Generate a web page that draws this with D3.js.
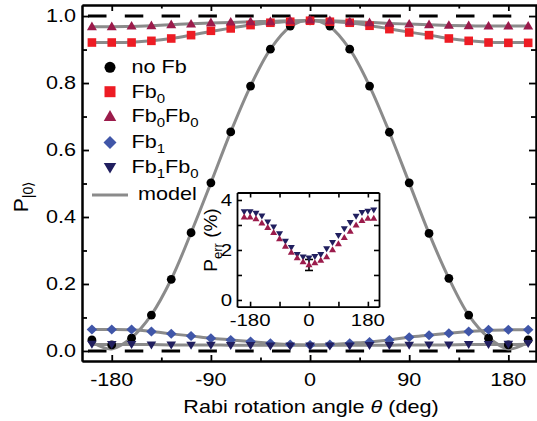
<!DOCTYPE html>
<html><head><meta charset="utf-8">
<script src="https://cdnjs.cloudflare.com/ajax/libs/d3/7.8.5/d3.min.js"></script>
<style>body{margin:0;background:#fff}svg{display:block}text{font-family:"Liberation Sans",Arial,sans-serif;fill:#000}</style>
</head><body><svg id="c" width="537" height="421"></svg>
<script>
// ---------- data ----------
const angles = [-198,-180,-162,-144,-126,-108,-90,-72,-54,-36,-18,0,18,36,54,72,90,108,126,144,162,180,198];
const noFb   = [0.033,0.018,0.038,0.107,0.214,0.353,0.502,0.654,0.791,0.901,0.970,0.986,0.970,0.901,0.791,0.653,0.502,0.351,0.217,0.107,0.038,0.018,0.033];
const fb0    = [0.921,0.921,0.921,0.926,0.933,0.943,0.956,0.963,0.973,0.980,0.983,0.986,0.983,0.980,0.971,0.961,0.951,0.943,0.933,0.926,0.921,0.920,0.920];
const fb0fb0 = [0.968,0.968,0.970,0.971,0.974,0.976,0.980,0.982,0.983,0.983,0.986,0.988,0.986,0.983,0.980,0.978,0.976,0.974,0.972,0.971,0.970,0.970,0.970];
const fb1    = [0.064,0.064,0.064,0.058,0.051,0.045,0.038,0.033,0.028,0.023,0.019,0.018,0.019,0.023,0.027,0.033,0.041,0.047,0.053,0.058,0.063,0.063,0.063];
const fb1fb0 = [0.021,0.020,0.020,0.019,0.019,0.018,0.018,0.017,0.017,0.016,0.016,0.016,0.016,0.016,0.017,0.017,0.018,0.019,0.019,0.020,0.020,0.021,0.023];
// model curves
const modelNoFb   = [0.026,0.006,0.040,0.108,0.214,0.353,0.502,0.654,0.791,0.901,0.968,0.988,0.968,0.901,0.791,0.653,0.502,0.351,0.217,0.107,0.040,0.006,0.026];
const modelFb0    = [0.921,0.921,0.922,0.926,0.933,0.943,0.954,0.964,0.973,0.980,0.984,0.986,0.984,0.980,0.972,0.962,0.952,0.943,0.933,0.926,0.922,0.921,0.921];
const modelFb0Fb0 = [0.968,0.968,0.969,0.971,0.974,0.977,0.979,0.981,0.983,0.984,0.986,0.987,0.986,0.984,0.981,0.978,0.976,0.974,0.972,0.971,0.970,0.970,0.970];
const modelFb1    = [0.064,0.064,0.063,0.058,0.051,0.045,0.038,0.033,0.028,0.023,0.019,0.018,0.019,0.023,0.027,0.033,0.041,0.047,0.053,0.058,0.062,0.063,0.063];
const modelFb1Fb0 = [0.019,0.019,0.019,0.019,0.018,0.018,0.018,0.017,0.017,0.017,0.017,0.017,0.017,0.017,0.017,0.017,0.018,0.018,0.018,0.019,0.019,0.019,0.020];
// inset: error probability (%)
const errFb0Fb0 = [3.32,3.32,3.25,3.08,2.90,2.70,2.45,2.15,1.90,1.68,1.52,1.40,1.48,1.58,1.72,2.00,2.25,2.50,2.75,3.00,3.18,3.27,3.27];
const errFb1Fb0 = [3.53,3.53,3.47,3.36,3.12,2.92,2.65,2.35,2.10,1.82,1.72,1.68,1.74,1.82,2.05,2.30,2.58,2.85,3.10,3.35,3.50,3.55,3.60];
const errBarAngle = [0];
const errBarLow = [1.18];
const errBarHigh = [1.62];
// ticks
const xMajor = [-180,-90,0,90,180], xMinor = [-135,-45,45,135];
const yMajor = [0,0.2,0.4,0.6,0.8,1.0], yMinor = [0.1,0.3,0.5,0.7,0.9];
const xLabels = ["-180","-90","0","90","180"], yLabels = ["0.0","0.2","0.4","0.6","0.8","1.0"];
const insetXTicks = [-180,-90,0,90,180], insetXLabels = [[-180,"-180"],[0,"0"],[180,"180"]];
const insetYTicks = [0,1,2,3,4], insetYLabels = [[0,"0"],[2,"2"],[4,"4"]];
const refLines = [0, 1];

const C = {black:"#000000", red:"#ed1c24", wine:"#9b1b4b", blue:"#4056a8", navy:"#211f5f", grey:"#8b8b8b"};
const SX = 1.2;

// ---------- helpers ----------
const svg = d3.select('#c');
function addText(g, x, y, parts, o={}) {
  const t = g.append('text')
    .attr('transform', `translate(${x},${y})` + (o.rot ? ` rotate(${o.rot})` : '') + ` scale(${o.sx ?? SX},1)`)
    .attr('text-anchor', o.anchor || 'start')
    .style('font-size', (o.size || 18) + 'px');
  let shift = 0;
  parts.forEach(p => {
    const sub = Array.isArray(p);
    const s = sub ? p[0] : p;
    const target = sub ? (o.subShift ?? 5) : 0;
    t.append('tspan').attr('dy', target - shift).style('font-size', sub ? (o.sub || 12.5) + 'px' : null).text(s);
    shift = target;
  });
  return t;
}
const M = {
  circle: r => `M${-r},0A${r},${r} 0 1,0 ${r},0A${r},${r} 0 1,0 ${-r},0Z`,
  square: s => `M${-s/2},${-s/2}h${s}v${s}h${-s}Z`,
  up: (w,h) => `M0,${-h*0.6}L${w/2},${h*0.4}L${-w/2},${h*0.4}Z`,
  down: (w,h) => `M0,${h*0.6}L${w/2},${-h*0.4}L${-w/2},${-h*0.4}Z`,
  diamond: (w,h) => `M0,${-h/2}L${w/2},0L0,${h/2}L${-w/2},0Z`
};

// ---------- main scales ----------
const x = d3.scaleLinear().domain([-207,206]).range([82,537]);
const y = d3.scaleLinear().domain([-0.03,1.033]).range([361,5]);

// reference dashed lines
svg.append('g').selectAll('line').data(refLines).join('line')
  .attr('x1', 88).attr('x2', 512).attr('y1', d => y(d)).attr('y2', d => y(d))
  .attr('stroke', '#000').attr('stroke-width', 3).attr('stroke-dasharray', '18.5,18.3');

// model lines
const line = arr => d3.line().x((d,i) => x(angles[i])).y(d => y(d)).curve(d3.curveCatmullRom.alpha(0.5))(arr);
svg.append('g').selectAll('path').data([modelNoFb, modelFb0, modelFb0Fb0, modelFb1, modelFb1Fb0]).join('path')
  .attr('d', d => line(d)).attr('fill', 'none').attr('stroke', C.grey).attr('stroke-width', 3);

// markers
function series(arr, shape, color) {
  svg.append('g').selectAll('path').data(arr).join('path')
    .attr('transform', (d,i) => `translate(${x(angles[i])},${y(d)})`)
    .attr('d', shape).attr('fill', color);
}
series(noFb, M.circle(4.4), C.black);
series(fb0, M.square(8.6), C.red);
series(fb0fb0, M.up(10, 8.6), C.wine);
series(fb1, M.diamond(10.5, 10), C.blue);
series(fb1fb0, M.down(9.6, 8), C.navy);

// axes (ticks inward)
function ax(gen, tr, vals, size) {
  svg.append('g').attr('transform', tr)
    .call(gen.tickValues(vals).tickSize(size).tickSizeOuter(0).tickFormat(''))
    .call(g => { g.selectAll('line').attr('stroke', '#000').attr('stroke-width', 1.8); g.select('.domain').attr('stroke', '#000').attr('stroke-width', 2); });
}
ax(d3.axisBottom(x), `translate(0,${361})`, xMajor, -6);
ax(d3.axisBottom(x), `translate(0,${361})`, xMinor, -3.5);
ax(d3.axisTop(x), `translate(0,${5})`, xMajor, -6);
ax(d3.axisTop(x), `translate(0,${5})`, xMinor, -3.5);
ax(d3.axisLeft(y), `translate(${82},0)`, yMajor, -7);
ax(d3.axisLeft(y), `translate(${82},0)`, yMinor, -5);
ax(d3.axisRight(y), `translate(${536},0)`, yMajor, -7);
ax(d3.axisRight(y), `translate(${536},0)`, yMinor, -5);

// tick labels
xMajor.forEach((v,i) => addText(svg, x(v), 386, [xLabels[i]], {anchor:'middle'}));
yMajor.forEach((v,i) => addText(svg, 76, y(v) + 6, [yLabels[i]], {anchor:'end'}));

// axis titles
addText(svg, 311, 413, ['Rabi rotation angle ', 'θ', ' (deg)'], {anchor:'middle'})
  .selectAll('tspan').filter((d,i) => i === 1).style('font-style', 'italic');
addText(svg, 28, 197, ['P', ['|0⟩']], {anchor:'middle', rot:-90, sx:1, size:21, sub:14});

// legend
const legend = [
  {shape: M.circle(5.5), color: C.black, label: ['no Fb']},
  {shape: M.square(11), color: C.red, label: ['Fb', ['0']]},
  {shape: M.up(12.5, 11), color: C.wine, label: ['Fb', ['0'], 'Fb', ['0']]},
  {shape: M.diamond(13, 13), color: C.blue, label: ['Fb', ['1']]},
  {shape: M.down(12.5, 10.5), color: C.navy, label: ['Fb', ['1'], 'Fb', ['0']]}
];
const legY = [67.3, 91.7, 116.5, 142.5, 167.3];
legend.forEach((d,i) => {
  svg.append('path').attr('transform', `translate(110,${legY[i]})`).attr('d', d.shape).attr('fill', d.color);
  addText(svg, 131.5, legY[i] + 5.8, d.label);
});
svg.append('line').attr('x1', 92).attr('x2', 128).attr('y1', 195).attr('y2', 195).attr('stroke', C.grey).attr('stroke-width', 3);
addText(svg, 138, 200, ['model']);

// ---------- inset ----------
const xi = d3.scaleLinear().domain([-220,214]).range([237,379]);
const yi = d3.scaleLinear().domain([-0.27,4.3]).range([306.7,192.5]);
svg.append('rect').attr('x', 237).attr('y', 192.5).attr('width', 142).attr('height', 114.2).attr('fill', '#fff');
function axi(gen, tr, vals) {
  svg.append('g').attr('transform', tr)
    .call(gen.tickValues(vals).tickSize(-5).tickSizeOuter(0).tickFormat(''))
    .call(g => { g.selectAll('line').attr('stroke', '#000').attr('stroke-width', 1.6); g.select('.domain').attr('stroke', '#000').attr('stroke-width', 1.8); });
}
axi(d3.axisBottom(xi), 'translate(0,306.7)', insetXTicks);
axi(d3.axisTop(xi), 'translate(0,192.5)', insetXTicks);
axi(d3.axisLeft(yi), 'translate(237,0)', insetYTicks);
axi(d3.axisRight(yi), 'translate(379,0)', insetYTicks);
// error bar
svg.append('g').selectAll('g').data(errBarAngle).join('g').each(function(a,i){
  const g = d3.select(this);
  g.append('line').attr('x1', xi(a)).attr('x2', xi(a)).attr('y1', yi(errBarLow[i])).attr('y2', yi(errBarHigh[i])).attr('stroke','#000').attr('stroke-width',1.6);
  [errBarLow[i], errBarHigh[i]].forEach(v => g.append('line').attr('x1', xi(a)-4).attr('x2', xi(a)+4).attr('y1', yi(v)).attr('y2', yi(v)).attr('stroke','#000').attr('stroke-width',1.6));
});
function iseries(arr, shape, color) {
  svg.append('g').selectAll('path').data(arr).join('path')
    .attr('transform', (d,i) => `translate(${xi(angles[i])},${yi(d)})`)
    .attr('d', shape).attr('fill', color);
}
iseries(errFb1Fb0, M.down(7, 6), C.navy);
iseries(errFb0Fb0, M.up(7, 6), C.wine);
insetXLabels.forEach(([v,s]) => addText(svg, xi(v), 326, [s], {anchor:'middle', size:17}));
insetYLabels.forEach(([v,s]) => addText(svg, 232, yi(v) + 6, [s], {anchor:'end', size:17}));
addText(svg, 217, 240, ['P', ['err'], ' (%)'], {anchor:'middle', rot:-90, sx:1, size:19, sub:13});
</script></body></html>
